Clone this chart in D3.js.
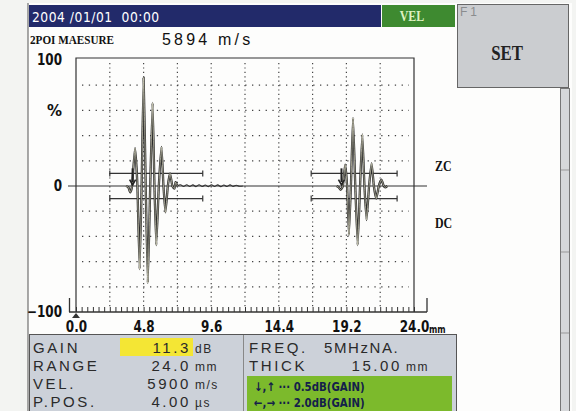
<!DOCTYPE html>
<html><head><meta charset="utf-8">
<script src="https://cdn.jsdelivr.net/npm/d3@7"></script>
<style>
html,body{margin:0;padding:0;background:#f4f5f3;}
svg{display:block;}
</style></head>
<body>
<script>
// ---------- data ----------
const xTickLabels = [0, 4.8, 9.6, 14.4, 19.2, 24.0];
const yTickLabels = [100, 0, -100];
const yGrid = [80, 60, 40, 20, -20, -40, -60, -80];
const xGrid = [2.4, 4.8, 7.2, 9.6, 12.0, 14.4, 16.8, 19.2, 21.6];

const echo1Mm  = [3.55,3.72,3.85,3.98,4.19,4.36,4.52,4.66,4.80,4.95,5.10,5.27,5.44,5.57,5.70,5.88,6.07,6.21,6.35,6.52,6.68,6.84,6.99,7.07,7.20];
const echo1Amp = [0,-1,-5,0,30,0,-66,0,86,0,-77,0,66,0,-47,0,31,0,-21,0,10,0,-2,3,0];

const rippleMm  = [7.20,7.42,7.64,7.86,8.08,8.30,8.52,8.74,8.96,9.18,9.40,9.62,9.84,10.06,10.28,10.50,10.72,10.94,11.16,11.38,11.60,11.85];
const rippleAmp = [0,1,-0.4,1,-0.4,0.9,-0.5,1,-0.4,0.8,-0.5,1,-0.4,0.9,-0.5,0.8,-0.4,0.9,-0.3,0.6,-0.2,0];

const echo2Mm  = [18.50,18.66,18.78,18.95,19.11,19.25,19.38,19.52,19.67,19.83,20.00,20.17,20.33,20.48,20.63,20.81,20.99,21.15,21.32,21.50,21.69,21.85,21.97,22.10];
const echo2Amp = [0,-1,-3,0,17,0,-39,0,54,0,-47,0,41,0,-27,0,18,0,-10,0,5,0,-1,0];

const gateStart = [2.4, 16.7];
const gateEnd   = [9.0, 22.8];
const gateLevels = [10, -10];
const markerMm = [4.02, 18.85];

const minorTickStep = 0.4;

// ---------- setup ----------
const W = 576, H = 411;
const cond = "'DejaVu Sans','Liberation Sans',sans-serif";
const sans = "'Liberation Sans',Arial,sans-serif";
const serif = "'Liberation Serif','DejaVu Serif',serif";
const squeeze = (sel, ax, k) => sel.attr("transform", `translate(${ax},0) scale(${k},1) translate(${-ax},0)`);

const svg = d3.select("body").append("svg").attr("width", W).attr("height", H);
svg.append("rect").attr("width", W).attr("height", H).attr("fill", "#f3f4f2");
svg.append("rect").attr("x", 28).attr("y", 3).attr("width", 544).attr("height", 408).attr("fill", "#fdfdfc");
svg.append("line").attr("x1", 28).attr("x2", 28).attr("y1", 3).attr("y2", 411).attr("stroke", "#555").attr("stroke-width", 1);

const x = d3.scaleLinear().domain([0, 24]).range([76, 414]);
const y = d3.scaleLinear().domain([-100, 100]).range([312, 60]);

// ---------- header ----------
svg.append("rect").attr("x", 29).attr("y", 5).attr("width", 352).attr("height", 22).attr("fill", "#222a6a");
squeeze(svg.append("text").attr("x", 32).attr("y", 22).attr("fill", "#fff")
  .attr("font-family", cond).attr("font-size", 14).attr("letter-spacing", 0.6)
  .style("white-space", "pre").text("2004 /01/01  00:00"), 32, 0.88);
svg.append("rect").attr("x", 382).attr("y", 5).attr("width", 73).attr("height", 22).attr("fill", "#3e8a30");
squeeze(svg.append("text").attr("x", 412).attr("y", 21).attr("text-anchor", "middle").attr("fill", "#dff2c0")
  .attr("font-family", serif).attr("font-weight", "bold").attr("font-size", 14).text("VEL"), 412, 0.85);

// F1 panel
svg.append("rect").attr("x", 457.5).attr("y", 4.5).attr("width", 111).attr("height", 83)
  .attr("fill", "#cbcdd0").attr("stroke", "#666").attr("stroke-width", 1);
svg.append("text").attr("x", 460).attr("y", 16).attr("fill", "#8a8c8e")
  .attr("font-family", sans).attr("font-size", 12).attr("letter-spacing", 3).text("F1");
squeeze(svg.append("text").attr("x", 507).attr("y", 60).attr("text-anchor", "middle").attr("fill", "#222")
  .attr("font-family", serif).attr("font-weight", "bold")
  .attr("font-size", 21).text("SET"), 507, 0.8);

// scrollbar
const sb = svg.append("g");
sb.append("rect").attr("x", 560.5).attr("y", 88.5).attr("width", 9).attr("height", 323)
  .attr("fill", "#d6d8da").attr("stroke", "#777");
[170, 252, 333].forEach(v => sb.append("line").attr("x1", 561).attr("x2", 569).attr("y1", v).attr("y2", v).attr("stroke", "#999"));

squeeze(svg.append("text").attr("x", 30).attr("y", 44).attr("fill", "#111")
  .attr("font-family", serif).attr("font-weight", "bold").attr("font-size", 13).text("2POI MAESURE"), 30, 0.86);
svg.append("text").attr("x", 162).attr("y", 45).attr("fill", "#111")
  .attr("font-family", sans).attr("font-size", 16).attr("letter-spacing", 3.2).text("5894 m/s");

// ---------- plot ----------
const plot = svg.append("g");
plot.selectAll(".hg").data(yGrid).join("line")
  .attr("x1", 82).attr("x2", 409).attr("y1", d => y(d)).attr("y2", d => y(d))
  .attr("stroke", "#444").attr("stroke-width", 1.3).attr("stroke-dasharray", "1.3,5.5");
plot.selectAll(".vg").data(xGrid).join("line")
  .attr("x1", d => x(d)).attr("x2", d => x(d)).attr("y1", 63).attr("y2", 309)
  .attr("stroke", "#444").attr("stroke-width", 1.2).attr("stroke-dasharray", "1.2,3.2");
plot.append("path").attr("d", `M${x(0)},${y(-100)}V${y(100)-2}H${x(24)}V${y(-100)}`)
  .attr("fill", "none").attr("stroke", "#333").attr("stroke-width", 1.2);

plot.append("line").attr("x1", 68).attr("x2", 427).attr("y1", y(0)).attr("y2", y(0))
  .attr("stroke", "#333").attr("stroke-width", 1.1);

const minorTicks = d3.range(0, 24 + 1e-6, minorTickStep);
const axMinor = d3.axisBottom(x).tickValues(minorTicks).tickSizeInner(-5).tickSizeOuter(0).tickFormat("");
const gMinor = plot.append("g").attr("transform", `translate(0,${y(-100)})`).call(axMinor);
gMinor.select(".domain").remove();
gMinor.selectAll("line").attr("stroke", "#333").attr("stroke-width", 1);
plot.append("line").attr("x1", 69).attr("x2", 427).attr("y1", y(-100)).attr("y2", y(-100)).attr("stroke", "#333").attr("stroke-width", 1.3);
plot.append("line").attr("x1", 69.5).attr("x2", 69.5).attr("y1", y(-100) - 14).attr("y2", y(-100)).attr("stroke", "#333").attr("stroke-width", 1.3);
plot.append("line").attr("x1", 427).attr("x2", 427).attr("y1", y(-100) - 14).attr("y2", y(-100)).attr("stroke", "#333").attr("stroke-width", 1.3);
plot.append("path").attr("d", `M${x(0)},${y(-100)+1}l-4,5h8z`).attr("fill", "#333");

const axLab = d3.axisBottom(x).tickValues(xTickLabels).tickSize(0).tickPadding(9).tickFormat(d3.format(".1f"));
const gLab = plot.append("g").attr("transform", `translate(0,${y(-100)})`).call(axLab);
gLab.select(".domain").remove();
gLab.selectAll("text").attr("font-family", cond).attr("font-weight", "bold").attr("font-size", 15)
  .attr("fill", "#111").attr("transform", "scale(0.8,1)");
plot.append("text").attr("x", x(24) + 15).attr("y", y(-100) + 21).attr("font-family", cond)
  .attr("font-weight", "bold").attr("font-size", 10).attr("fill", "#111")
  .attr("transform", `translate(${x(24)+15},0) scale(0.8,1) translate(${-(x(24)+15)},0)`).text("mm");

plot.selectAll(".yl").data(yTickLabels).join("text")
  .attr("x", 62).attr("y", d => y(d) + 5).attr("text-anchor", "end")
  .attr("font-family", cond).attr("font-weight", "bold").attr("font-size", 15).attr("fill", "#111")
  .attr("transform", "translate(62,0) scale(0.8,1) translate(-62,0)")
  .text(d => d === -100 ? "\u2212100" : d);
plot.append("text").attr("x", 62).attr("y", 116).attr("text-anchor", "end")
  .attr("font-family", cond).attr("font-weight", "bold").attr("font-size", 15).attr("fill", "#111").text("%");

// gates
gateStart.forEach((s, i) => {
  gateLevels.forEach(lv => {
    const yy = y(lv);
    plot.append("line").attr("x1", x(s)).attr("x2", x(gateEnd[i])).attr("y1", yy).attr("y2", yy)
      .attr("stroke", "#333").attr("stroke-width", 1.2);
    [s, gateEnd[i]].forEach(e => plot.append("line").attr("x1", x(e)).attr("x2", x(e))
      .attr("y1", yy - 3).attr("y2", yy + 3).attr("stroke", "#333").attr("stroke-width", 1.2));
  });
});

// waveform
const line = d3.line().x(d => x(d[0])).y(d => y(d[1])).curve(d3.curveCardinal.tension(0.55));
const e1 = echo1Mm.map((m, i) => [m, echo1Amp[i]]);
const e2 = echo2Mm.map((m, i) => [m, echo2Amp[i]]);
const rp = rippleMm.map((m, i) => [m, rippleAmp[i]]);
plot.append("path").attr("d", d3.line().x(d => x(d[0])).y(d => y(d[1])).curve(d3.curveCatmullRom)(rp))
  .attr("fill", "none").attr("stroke", "#333").attr("stroke-width", 1.1);
[e1, e2].forEach(e => {
  plot.append("path").attr("d", line(e)).attr("fill", "none").attr("stroke", "#2a2a2a").attr("stroke-width", 2.3).attr("stroke-linejoin", "round");
  plot.append("path").attr("d", line(e)).attr("fill", "none").attr("stroke", "#eeecd2").attr("stroke-width", 0.6).attr("stroke-linejoin", "round");
});

// markers (arrows)
markerMm.forEach(m => {
  const xx = x(m);
  plot.append("line").attr("x1", xx).attr("x2", xx).attr("y1", y(14)).attr("y2", y(3))
    .attr("stroke", "#222").attr("stroke-width", 2);
  plot.append("path").attr("d", `M${xx - 3},${y(5)}L${xx},${y(0) - 1}L${xx + 3},${y(5)}`)
    .attr("fill", "none").attr("stroke", "#222").attr("stroke-width", 1.6);
});

[["ZC", 171], ["DC", 228]].forEach(([t, yy]) => squeeze(plot.append("text").attr("x", 435).attr("y", yy)
  .attr("font-family", serif).attr("font-weight", "bold").attr("font-size", 14)
  .attr("fill", "#111").text(t), 435, 0.85));

// ---------- bottom panel ----------
const bp = svg.append("g");
bp.append("rect").attr("x", 29.5).attr("y", 334.5).attr("width", 427).attr("height", 80)
  .attr("fill", "#ccd1d9").attr("stroke", "#555");
bp.append("line").attr("x1", 243.5).attr("x2", 243.5).attr("y1", 335).attr("y2", 411).attr("stroke", "#888");
bp.append("rect").attr("x", 120).attr("y", 338).attr("width", 73).attr("height", 18).attr("fill", "#f4e634");
bp.append("rect").attr("x", 247).attr("y", 376).attr("width", 205).attr("height", 36).attr("fill", "#7cba2c");

const rowsL = [["GAIN", "11.3", "dB", 353], ["RANGE", "24.0", "mm", 371], ["VEL.", "5900", "m/s", 389], ["P.POS.", "4.00", "\u00b5s", 407]];
rowsL.forEach(([lab, val, unit, yy]) => {
  bp.append("text").attr("x", 33).attr("y", yy).attr("font-family", sans).attr("font-size", 15)
    .attr("letter-spacing", 2.6).attr("fill", "#2a2a2a").text(lab);
  bp.append("text").attr("x", 191).attr("y", yy).attr("text-anchor", "end").attr("font-family", sans).attr("font-size", 15)
    .attr("letter-spacing", 2.6).attr("fill", "#2a2a2a").text(val);
  bp.append("text").attr("x", 195).attr("y", yy).attr("font-family", sans).attr("font-size", 12)
    .attr("letter-spacing", 1.5).attr("fill", "#2a2a2a").text(unit);
});
bp.append("text").attr("x", 249).attr("y", 353).attr("font-family", sans).attr("font-size", 15)
  .attr("letter-spacing", 2.6).attr("fill", "#2a2a2a").text("FREQ.");
bp.append("text").attr("x", 324).attr("y", 353).attr("font-family", sans).attr("font-size", 15)
  .attr("letter-spacing", 1.6).attr("fill", "#2a2a2a").text("5MHzNA.");
bp.append("text").attr("x", 249).attr("y", 371).attr("font-family", sans).attr("font-size", 15)
  .attr("letter-spacing", 2.6).attr("fill", "#2a2a2a").text("THICK");
bp.append("text").attr("x", 402).attr("y", 371).attr("text-anchor", "end").attr("font-family", sans).attr("font-size", 15)
  .attr("letter-spacing", 2.6).attr("fill", "#2a2a2a").text("15.00");
bp.append("text").attr("x", 406).attr("y", 371).attr("font-family", sans).attr("font-size", 12)
  .attr("letter-spacing", 1.5).attr("fill", "#2a2a2a").text("mm");
[["\u2193,\u2191 \u00b7\u00b7\u00b7 0.5dB(GAIN)", 391], ["\u2190,\u2192 \u00b7\u00b7\u00b7 2.0dB(GAIN)", 407]].forEach(([t, yy]) =>
  squeeze(bp.append("text").attr("x", 254).attr("y", yy).attr("font-family", cond).attr("font-weight", "bold")
    .attr("font-size", 12).attr("fill", "#14204a").text(t), 254, 0.85));
</script>
</body></html>
